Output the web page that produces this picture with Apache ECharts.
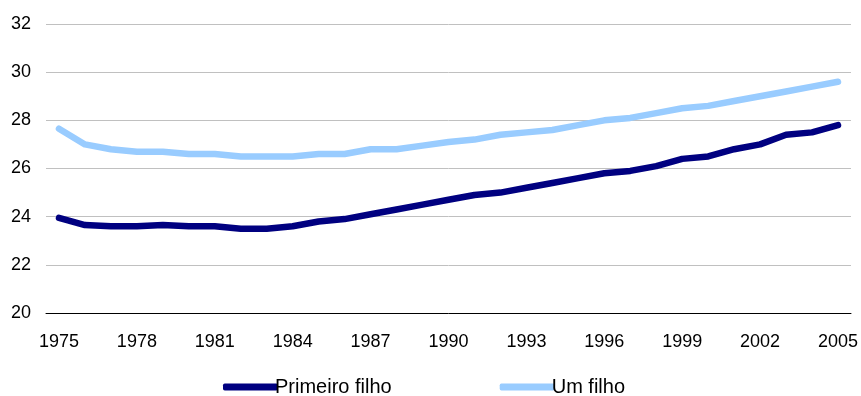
<!DOCTYPE html>
<html><head><meta charset="utf-8">
<script src="https://cdn.jsdelivr.net/npm/echarts@6/dist/echarts.min.js"></script>
<style>html,body{margin:0;padding:0;background:#fff}#c{width:861px;height:396px}</style>
</head><body><div id="c"></div>
<script>
const years = [];
for (let y = 1975; y <= 2005; y++) years.push(String(y));
const primeiroFilho = [23.95,23.65,23.6,23.6,23.65,23.6,23.6,23.5,23.5,23.6,23.8,23.9,24.1,24.3,24.5,24.7,24.9,25.0,25.2,25.4,25.6,25.8,25.9,26.1,26.4,26.5,26.8,27.0,27.4,27.5,27.8];
const umFilho = [27.65,27.0,26.8,26.7,26.7,26.6,26.6,26.5,26.5,26.5,26.6,26.6,26.8,26.8,26.95,27.1,27.2,27.4,27.5,27.6,27.8,28.0,28.1,28.3,28.5,28.6,28.8,29.0,29.2,29.4,29.6];
const seriesNames = ['Primeiro filho','Um filho'];
const font = '"Liberation Sans", Arial, sans-serif';
const chart = echarts.init(document.getElementById('c'));
chart.setOption({
  animation:false,
  grid:{left:46,right:8,top:24,bottom:83},
  legend:{top:372,left:218,itemWidth:55,itemHeight:7,itemGap:108,icon:'roundRect',
    textStyle:{fontFamily:font,fontSize:20,color:'#000',padding:[0,0,0,-8]},data:seriesNames},
  xAxis:{type:'category',data:years,boundaryGap:true,
    axisLine:{lineStyle:{color:'#000',width:1}},
    axisTick:{interval:0,length:5,lineStyle:{color:'#000'}},
    axisLabel:{interval:2,fontFamily:font,fontSize:18,color:'#000',margin:20}},
  yAxis:{type:'value',min:20,max:32,interval:2,
    axisLine:{show:false},axisTick:{show:false},
    splitLine:{lineStyle:{color:'#c0c0c0',width:1}},
    axisLabel:{fontFamily:font,fontSize:18,color:'#000',margin:15}},
  series:[
    {name:seriesNames[0],type:'line',data:primeiroFilho,symbol:'none',lineStyle:{color:'#000080',width:6.5,cap:'round',join:'round'},itemStyle:{color:'#000080'}},
    {name:seriesNames[1],type:'line',data:umFilho,symbol:'none',lineStyle:{color:'#99CCFF',width:6.5,cap:'round',join:'round'},itemStyle:{color:'#99CCFF'}}
  ]
});
</script></body></html>
